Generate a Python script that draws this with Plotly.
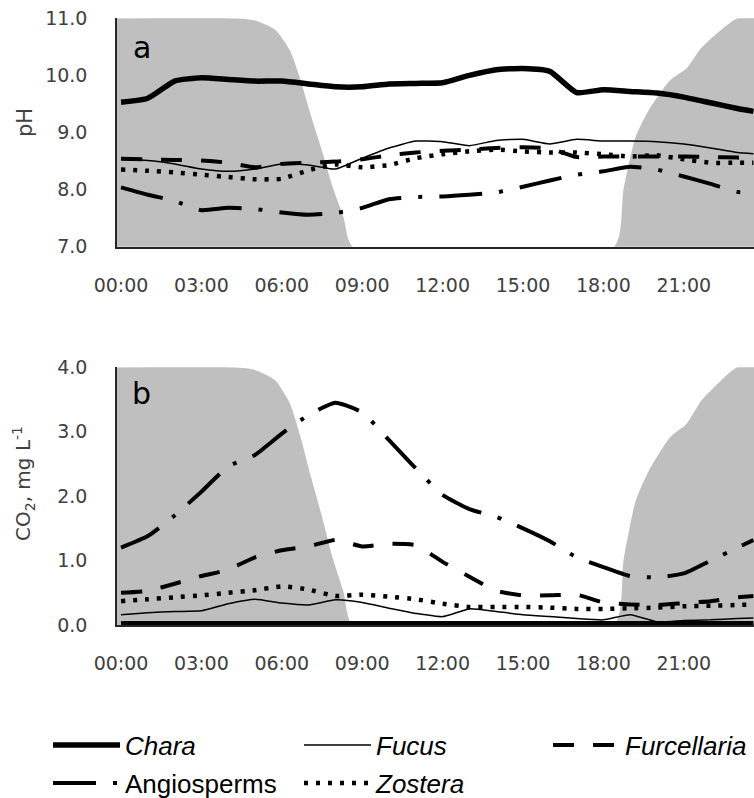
import plotly.graph_objects as go

# ---- data (hours since midnight) ----
hours = [0, 1, 2, 3, 4, 5, 6, 7, 8, 9, 10, 11, 12, 13, 14, 15, 16, 17, 18, 19, 20, 21, 22, 23, 23.6]

chara_ph = [9.53, 9.6, 9.9, 9.96, 9.93, 9.9, 9.9, 9.85, 9.8, 9.8, 9.85, 9.86, 9.87, 10.0, 10.1, 10.12, 10.07, 9.7, 9.75, 9.72, 9.69, 9.62, 9.52, 9.42, 9.37]
fucus_ph = [8.53, 8.51, 8.45, 8.36, 8.32, 8.36, 8.45, 8.43, 8.36, 8.55, 8.73, 8.85, 8.84, 8.77, 8.86, 8.88, 8.8, 8.88, 8.85, 8.85, 8.84, 8.8, 8.73, 8.65, 8.63]
furc_ph = [8.54, 8.53, 8.52, 8.51, 8.47, 8.39, 8.45, 8.47, 8.49, 8.53, 8.6, 8.65, 8.68, 8.7, 8.73, 8.74, 8.72, 8.57, 8.58, 8.58, 8.58, 8.58, 8.57, 8.56, 8.56]
angio_ph = [8.04, 7.91, 7.8, 7.64, 7.68, 7.66, 7.6, 7.56, 7.59, 7.68, 7.83, 7.87, 7.88, 7.91, 7.95, 8.05, 8.16, 8.26, 8.32, 8.4, 8.35, 8.23, 8.1, 7.96, 7.95]
zost_ph = [8.35, 8.33, 8.3, 8.26, 8.22, 8.18, 8.19, 8.34, 8.44, 8.39, 8.43, 8.55, 8.62, 8.67, 8.7, 8.67, 8.65, 8.65, 8.62, 8.58, 8.6, 8.53, 8.47, 8.47, 8.47]

chara_co2 = [0.02, 0.02, 0.02, 0.02, 0.02, 0.02, 0.02, 0.02, 0.02, 0.02, 0.02, 0.02, 0.02, 0.02, 0.02, 0.02, 0.02, 0.02, 0.02, 0.02, 0.02, 0.02, 0.02, 0.02, 0.02]
fucus_co2 = [0.16, 0.19, 0.21, 0.22, 0.33, 0.4, 0.34, 0.31, 0.39, 0.35, 0.26, 0.18, 0.13, 0.25, 0.21, 0.16, 0.13, 0.1, 0.08, 0.16, 0.05, 0.07, 0.08, 0.1, 0.11]
furc_co2 = [0.5, 0.53, 0.64, 0.76, 0.86, 1.05, 1.16, 1.22, 1.32, 1.22, 1.26, 1.24, 0.98, 0.75, 0.53, 0.46, 0.46, 0.47, 0.35, 0.32, 0.31, 0.34, 0.37, 0.43, 0.45]
angio_co2 = [1.2, 1.38, 1.7, 2.07, 2.46, 2.64, 2.97, 3.26, 3.45, 3.3, 2.87, 2.43, 2.02, 1.8, 1.68, 1.5, 1.3, 1.05, 0.9, 0.76, 0.74, 0.8, 1.0, 1.2, 1.32]
zost_co2 = [0.37, 0.4, 0.43, 0.46, 0.5, 0.54, 0.6, 0.55, 0.45, 0.47, 0.44, 0.4, 0.33, 0.28, 0.28, 0.28, 0.27, 0.25, 0.25, 0.26, 0.27, 0.29, 0.3, 0.31, 0.32]

# darkness (night) fraction for the grey background
night_h = [-0.3, 4.25, 5.0, 5.75, 6.3, 6.7, 7.1, 7.5, 7.9, 8.3, 8.65, 18.4, 18.75, 19.2, 19.7, 20.5, 21.1, 21.65, 22.4, 23.0, 23.8]
night_f = [1, 1, 0.99, 0.95, 0.86, 0.73, 0.57, 0.42, 0.26, 0.13, 0, 0, 0.25, 0.48, 0.6, 0.73, 0.78, 0.87, 0.95, 1.0, 1.0]

tick_vals = [0, 3, 6, 9, 12, 15, 18, 21]
tick_text = ["00:00", "03:00", "06:00", "09:00", "12:00", "15:00", "18:00", "21:00"]

series_names = ["<i>Chara</i>", "<i>Fucus</i>", "<i>Furcellaria</i>", "Angiosperms", "<i>Zostera</i>"]
ph_series = [chara_ph, fucus_ph, furc_ph, angio_ph, zost_ph]
co2_series = [chara_co2, fucus_co2, furc_co2, angio_co2, zost_co2]

styles = [
    dict(color="black", width=5.5),
    dict(color="black", width=1.5),
    dict(color="black", width=4, dash="21px,19px"),
    dict(color="black", width=4, dash="43px,17px,4px,17px"),
    dict(color="black", width=4.5, dash="4px,8px"),
]

ph_range = [7, 11]
co2_range = [0, 4]

fig = go.Figure()

# night shading
fig.add_trace(go.Scatter(x=night_h, y=[ph_range[0] + f * (ph_range[1] - ph_range[0]) for f in night_f],
                         mode="lines", line=dict(width=0, shape="spline", smoothing=0.6),
                         fill="tozeroy", fillcolor="#bfbfbf", showlegend=False, hoverinfo="skip",
                         xaxis="x", yaxis="y"))
fig.add_trace(go.Scatter(x=night_h, y=[co2_range[0] + f * (co2_range[1] - co2_range[0]) for f in night_f],
                         mode="lines", line=dict(width=0, shape="spline", smoothing=0.6),
                         fill="tozeroy", fillcolor="#bfbfbf", showlegend=False, hoverinfo="skip",
                         xaxis="x2", yaxis="y2"))

legend_ids = ["legend", "legend2", "legend3", "legend4", "legend5"]
for i in range(5):
    fig.add_trace(go.Scatter(x=hours, y=ph_series[i], mode="lines", name=series_names[i],
                             line=dict(shape="spline", smoothing=0.5, **styles[i]),
                             legend=legend_ids[i], xaxis="x", yaxis="y"))
for i in range(5):
    fig.add_trace(go.Scatter(x=hours, y=co2_series[i], mode="lines", name=series_names[i],
                             line=dict(shape="spline", smoothing=0.5, **styles[i]),
                             showlegend=False, xaxis="x2", yaxis="y2"))

W, H = 754, 798
x_dom = [117 / W, 1.0]
top_dom = [1 - 246.7 / H, 1 - 18.3 / H]
bot_dom = [1 - 625 / H, 1 - 367.3 / H]

tick_font = dict(family="DejaVu Sans", size=19, color="#404040")
xax = dict(range=[-0.15, 23.62], tickvals=tick_vals, ticktext=tick_text, showgrid=False, zeroline=False,
           showline=True, linecolor="#262626", linewidth=2, ticks="", tickfont=tick_font,
           ticklabelstandoff=20, domain=x_dom, automargin=False)
yax = dict(showgrid=False, zeroline=False, showline=True, linecolor="#262626", linewidth=1.5, ticks="",
           tickfont=tick_font, ticklabelstandoff=24, tickformat=".1f", dtick=1, automargin=False)

def leg(xpx, ypx):
    return dict(orientation="h", x=xpx / W, xanchor="left", y=1 - ypx / H, yanchor="middle",
                font=dict(family="Liberation Sans", size=26, color="black"),
                itemwidth=67, bgcolor="rgba(0,0,0,0)")

fig.update_layout(
    width=W, height=H, margin=dict(l=0, r=0, t=0, b=0, autoexpand=False),
    paper_bgcolor="white", plot_bgcolor="white",
    xaxis=dict(anchor="y", **xax),
    yaxis=dict(anchor="x", domain=top_dom, range=ph_range, **yax),
    xaxis2=dict(anchor="y2", **xax),
    yaxis2=dict(anchor="x2", domain=bot_dom, range=co2_range, **yax),
    showlegend=True,
    legend=leg(48, 745),
    legend2=leg(299, 745),
    legend3=leg(548, 745),
    legend4=leg(48, 783),
    legend5=leg(299, 783),
    annotations=[
        dict(text="a", xref="x domain", yref="y domain", x=0.039, y=0.874, xanchor="center", yanchor="middle",
             showarrow=False, font=dict(family="DejaVu Sans", size=30, color="black")),
        dict(text="b", xref="x2 domain", yref="y2 domain", x=0.039, y=0.9, xanchor="center", yanchor="middle",
             showarrow=False, font=dict(family="DejaVu Sans", size=30, color="black")),
        dict(text="pH", xref="paper", yref="paper", x=25 / W, y=1 - 123 / H, xanchor="center", yanchor="middle",
             showarrow=False, textangle=-90,
             font=dict(family="DejaVu Sans", size=21, color="#404040")),
        dict(text="CO<sub>2</sub>, mg L<sup>-1</sup>", xref="paper", yref="paper", x=23 / W, y=1 - 484 / H,
             xanchor="center", yanchor="middle", showarrow=False, textangle=-90,
             font=dict(family="DejaVu Sans", size=20, color="#404040")),
    ],
)

fig.write_html("out.html")
